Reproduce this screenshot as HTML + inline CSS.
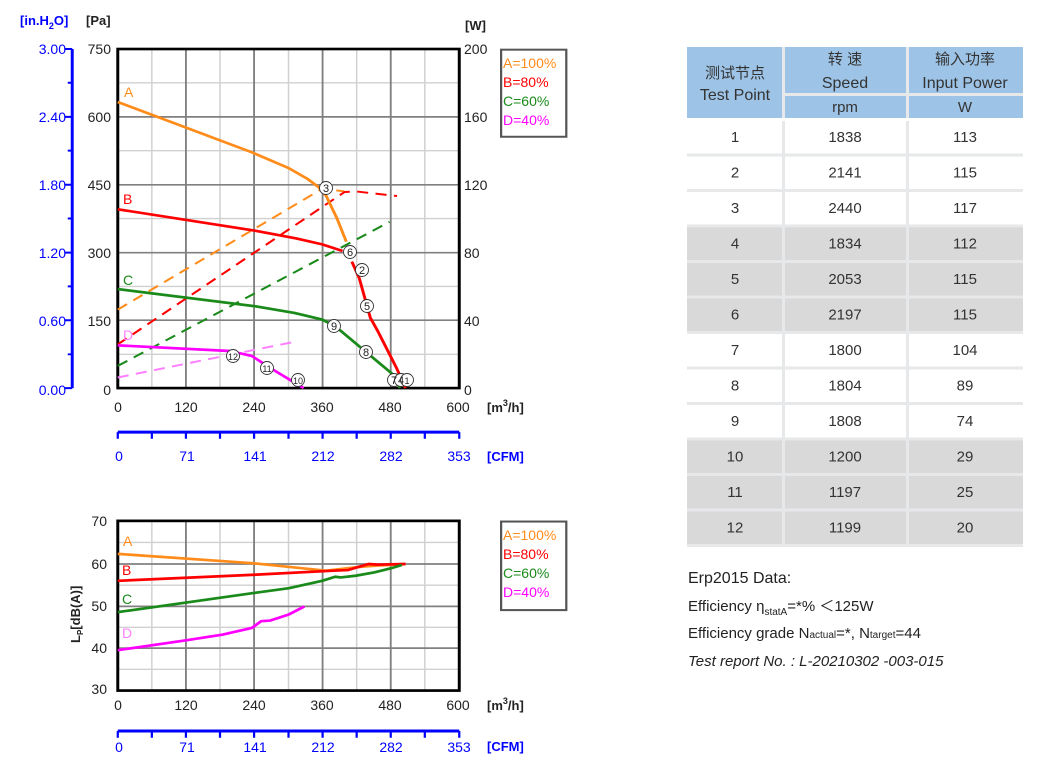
<!DOCTYPE html>
<html><head><meta charset="utf-8"><style>
body{margin:0;background:#fff;width:1045px;height:776px;overflow:hidden}
svg{display:block}
text{font-family:"Liberation Sans",Arial,sans-serif}
.t{font-family:"Liberation Sans","Noto Sans CJK SC",sans-serif;fill:#333;font-size:15px;text-anchor:middle}
</style></head><body>
<svg width="1045" height="776" viewBox="0 0 1045 776">
<g transform="scale(0.37037,0.33113)" fill="none">
 <g stroke="#d0d0d0" stroke-width="4">
  <line x1="410" y1="148" x2="410" y2="1172"/><line x1="594" y1="148" x2="594" y2="1172"/><line x1="779" y1="148" x2="779" y2="1172"/><line x1="963" y1="148" x2="963" y2="1172"/><line x1="1147" y1="148" x2="1147" y2="1172"/>
  <line x1="318" y1="250" x2="1240" y2="250"/><line x1="318" y1="455" x2="1240" y2="455"/><line x1="318" y1="660" x2="1240" y2="660"/><line x1="318" y1="865" x2="1240" y2="865"/><line x1="318" y1="1070" x2="1240" y2="1070"/>
 </g>
 <g stroke="#808080" stroke-width="5">
  <line x1="502" y1="148" x2="502" y2="1172"/><line x1="686" y1="148" x2="686" y2="1172"/><line x1="871" y1="148" x2="871" y2="1172"/><line x1="1055" y1="148" x2="1055" y2="1172"/>
  <line x1="318" y1="353" x2="1240" y2="353"/><line x1="318" y1="558" x2="1240" y2="558"/><line x1="318" y1="763" x2="1240" y2="763"/><line x1="318" y1="967" x2="1240" y2="967"/>
 </g>
 <rect x="318" y="148" width="922" height="1024" stroke="#000" stroke-width="8"/>
 <line x1="195" y1="148" x2="195" y2="1172" stroke="#00f" stroke-width="8"/>
 <path stroke="#00f" stroke-width="6" d="M175 148h20M183 250h12M175 353h20M183 455h12M175 558h20M183 660h12M175 763h20M183 865h12M175 967h20M183 1070h12M175 1172h20"/>
 <line x1="318" y1="1305" x2="1240" y2="1305" stroke="#00f" stroke-width="9"/>
 <path stroke="#00f" stroke-width="6" d="M318 1305v20M410 1305v20M502 1305v20M594 1305v20M686 1305v20M779 1305v20M871 1305v20M963 1305v20M1055 1305v20M1147 1305v20M1240 1305v20"/>
 <g stroke-width="6" stroke-dasharray="30,20">
  <path stroke="#ff8c1a" d="M318 935 L870 570 L930 578"/>
  <path stroke="#f00" d="M318 1040 L930 580 L960 578 L1072 592"/>
  <path stroke="#1a8a1a" d="M318 1105 L1052 670"/>
  <path stroke="#ff80ff" d="M318 1140 L805 1030"/>
 </g>
 <g stroke-width="8" stroke-linejoin="round">
  <path stroke="#ff8c1a" d="M318 308 L680 460 L780 508 L830 540 L860 565 L880 590 L910 660 L935 730"/>
  <path stroke="#f00" d="M318 632 L680 695 L800 720 L870 738 L925 758 M950 790 L970 840 L1000 960 L1020 1000 L1070 1110 L1095 1172"/>
  <path stroke="#1a8a1a" d="M318 873 L690 925 L795 945 L870 965 L905 985 L1060 1130 L1080 1172"/>
  <path stroke="#ff00ff" d="M318 1043 L620 1060 L680 1075 L735 1115 L820 1172"/>
 </g>
 <rect x="1353" y="150" width="176" height="263" stroke="#555" stroke-width="6"/>
</g>
<g font-size="11" text-anchor="middle" fill="#222">
 <g fill="#fff" stroke="#333" stroke-width="0.9">
  <circle cx="326" cy="188" r="6.5"/><circle cx="350" cy="252" r="6.5"/><circle cx="362" cy="270" r="6.5"/><circle cx="367" cy="306" r="6.5"/><circle cx="334" cy="326" r="6.5"/><circle cx="366" cy="352" r="6.5"/><circle cx="394" cy="380" r="6.5"/><circle cx="401" cy="380" r="6.5"/><circle cx="407" cy="380" r="6.5"/><circle cx="233" cy="356" r="6.5"/><circle cx="267" cy="368" r="6.5"/><circle cx="298" cy="380" r="6.5"/>
 </g>
 <text x="326" y="192">3</text><text x="350" y="256">6</text><text x="362" y="274">2</text><text x="367" y="310">5</text><text x="334" y="330">9</text><text x="366" y="356">8</text><text x="394" y="384">7</text><text x="401" y="384">4</text><text x="407" y="384" font-size="9">1</text><text x="233" y="360" font-size="9">12</text><text x="267" y="372" font-size="9">11</text><text x="298" y="384" font-size="9">10</text>
</g>
<g font-size="13" font-weight="bold">
 <text x="20" y="25" fill="#00f">[in.H<tspan font-size="9" dy="4">2</tspan><tspan dy="-4">O]</tspan></text>
 <text x="86" y="25" fill="#222">[Pa]</text>
 <text x="465" y="30" fill="#222">[W]</text>
 <text x="487" y="412" fill="#222">[m<tspan font-size="9" dy="-6">3</tspan><tspan dy="6">/h]</tspan></text>
 <text x="487" y="461" fill="#00f">[CFM]</text>
</g>
<g font-size="14" fill="#00f" text-anchor="end">
 <text x="66" y="54">3.00</text><text x="66" y="122">2.40</text><text x="66" y="190">1.80</text><text x="66" y="258">1.20</text><text x="66" y="326">0.60</text><text x="66" y="395">0.00</text>
</g>
<g font-size="14" fill="#222" text-anchor="end">
 <text x="111" y="54">750</text><text x="111" y="122">600</text><text x="111" y="190">450</text><text x="111" y="258">300</text><text x="111" y="326">150</text><text x="111" y="395">0</text>
</g>
<g font-size="14" fill="#222">
 <text x="464" y="54">200</text><text x="464" y="122">160</text><text x="464" y="190">120</text><text x="464" y="258">80</text><text x="464" y="326">40</text><text x="464" y="395">0</text>
</g>
<g font-size="14" fill="#222" text-anchor="middle">
 <text x="118" y="412">0</text><text x="186" y="412">120</text><text x="254" y="412">240</text><text x="322" y="412">360</text><text x="390" y="412">480</text><text x="458" y="412">600</text>
</g>
<g font-size="14" fill="#00f" text-anchor="middle">
 <text x="119" y="461">0</text><text x="187" y="461">71</text><text x="255" y="461">141</text><text x="323" y="461">212</text><text x="391" y="461">282</text><text x="459" y="461">353</text>
</g>
<g font-size="14">
 <text x="503" y="68" fill="#ff8c1a">A=100%</text><text x="503" y="87" fill="#f00">B=80%</text><text x="503" y="106" fill="#1a8a1a">C=60%</text><text x="503" y="125" fill="#ff00ff">D=40%</text>
 <text x="124" y="97" fill="#ff8c1a">A</text><text x="123" y="204" fill="#f00">B</text><text x="123" y="285" fill="#1a8a1a">C</text><text x="123" y="340" fill="#ff80ff">D</text>
</g>

<g transform="translate(0,500) scale(0.37037,0.3367)" fill="none">
 <g stroke="#d0d0d0" stroke-width="4">
  <line x1="410" y1="62" x2="410" y2="566"/><line x1="594" y1="62" x2="594" y2="566"/><line x1="779" y1="62" x2="779" y2="566"/><line x1="963" y1="62" x2="963" y2="566"/><line x1="1147" y1="62" x2="1147" y2="566"/>
  <line x1="318" y1="126" x2="1240" y2="126"/><line x1="318" y1="253" x2="1240" y2="253"/><line x1="318" y1="378" x2="1240" y2="378"/><line x1="318" y1="503" x2="1240" y2="503"/>
 </g>
 <g stroke="#808080" stroke-width="5">
  <line x1="502" y1="62" x2="502" y2="566"/><line x1="686" y1="62" x2="686" y2="566"/><line x1="871" y1="62" x2="871" y2="566"/><line x1="1055" y1="62" x2="1055" y2="566"/>
  <line x1="318" y1="190" x2="1240" y2="190"/><line x1="318" y1="316" x2="1240" y2="316"/><line x1="318" y1="440" x2="1240" y2="440"/>
 </g>
 <rect x="318" y="62" width="922" height="504" stroke="#000" stroke-width="8"/>
 <line x1="318" y1="686" x2="1240" y2="686" stroke="#00f" stroke-width="9"/>
 <path stroke="#00f" stroke-width="6" d="M318 686v20M410 686v20M502 686v20M594 686v20M686 686v20M779 686v20M871 686v20M963 686v20M1055 686v20M1147 686v20M1240 686v20"/>
 <g stroke-width="8" stroke-linejoin="round">
  <path stroke="#ff8c1a" d="M318 160 L686 188 L880 210 L960 200 L1000 196 L1095 190"/>
  <path stroke="#f00" d="M318 240 L686 222 L900 210 L940 208 L970 198 L995 190 L1020 192 L1095 190"/>
  <path stroke="#1a8a1a" d="M318 333 L500 305 L686 276 L780 262 L870 240 L905 228 L920 230 L960 225 L1010 215 L1055 203 L1085 193"/>
  <path stroke="#ff00ff" d="M318 446 L500 417 L600 400 L680 380 L705 360 L730 358 L780 340 L822 316"/>
 </g>
 <rect x="1353" y="64" width="176" height="263" stroke="#555" stroke-width="6"/>
</g>
<g font-size="14" fill="#222" text-anchor="end">
 <text x="107" y="526">70</text><text x="107" y="569">60</text><text x="107" y="611">50</text><text x="107" y="653">40</text><text x="107" y="694">30</text>
</g>
<g font-size="14" fill="#222" text-anchor="middle">
 <text x="118" y="710">0</text><text x="186" y="710">120</text><text x="254" y="710">240</text><text x="322" y="710">360</text><text x="390" y="710">480</text><text x="458" y="710">600</text>
</g>
<g font-size="14" fill="#00f" text-anchor="middle">
 <text x="119" y="752">0</text><text x="187" y="752">71</text><text x="255" y="752">141</text><text x="323" y="752">212</text><text x="391" y="752">282</text><text x="459" y="752">353</text>
</g>
<g font-size="13" font-weight="bold">
 <text x="487" y="710" fill="#222">[m<tspan font-size="9" dy="-6">3</tspan><tspan dy="6">/h]</tspan></text>
 <text x="487" y="751" fill="#00f">[CFM]</text>
 <text transform="translate(80,643) rotate(-90)" fill="#222">L<tspan font-size="8" dy="3">P</tspan><tspan dy="-3">[dB(A)]</tspan></text>
</g>
<g font-size="14">
 <text x="503" y="540" fill="#ff8c1a">A=100%</text><text x="503" y="559" fill="#f00">B=80%</text><text x="503" y="578" fill="#1a8a1a">C=60%</text><text x="503" y="597" fill="#ff00ff">D=40%</text>
 <text x="123" y="546" fill="#ff8c1a">A</text><text x="122" y="575" fill="#f00">B</text><text x="122" y="604" fill="#1a8a1a">C</text><text x="122" y="638" fill="#ff80ff">D</text>
</g>

<!-- TABLE -->
<rect x="687" y="47" width="336" height="500" fill="#e6e8ea"/>
<g fill="#9dc3e6">
 <rect x="687" y="47" width="95" height="71"/>
 <rect x="785" y="47" width="121" height="46"/><rect x="909" y="47" width="114" height="46"/>
 <rect x="785" y="96" width="121" height="22"/><rect x="909" y="96" width="114" height="22"/>
</g>
<rect x="687" y="118" width="336" height="3" fill="#fff"/>
<g fill="#fff">
 <rect x="687" y="121" width="95" height="32.5"/><rect x="785" y="121" width="121" height="32.5"/><rect x="909" y="121" width="114" height="32.5"/>
 <rect x="687" y="156.5" width="95" height="32.5"/><rect x="785" y="156.5" width="121" height="32.5"/><rect x="909" y="156.5" width="114" height="32.5"/>
 <rect x="687" y="192" width="95" height="32.5"/><rect x="785" y="192" width="121" height="32.5"/><rect x="909" y="192" width="114" height="32.5"/>
 <rect x="687" y="334" width="95" height="32.5"/><rect x="785" y="334" width="121" height="32.5"/><rect x="909" y="334" width="114" height="32.5"/>
 <rect x="687" y="369.5" width="95" height="32.5"/><rect x="785" y="369.5" width="121" height="32.5"/><rect x="909" y="369.5" width="114" height="32.5"/>
 <rect x="687" y="405" width="95" height="32.5"/><rect x="785" y="405" width="121" height="32.5"/><rect x="909" y="405" width="114" height="32.5"/>
</g>
<g fill="#d9d9d9">
 <rect x="687" y="227.5" width="95" height="32.5"/><rect x="785" y="227.5" width="121" height="32.5"/><rect x="909" y="227.5" width="114" height="32.5"/>
 <rect x="687" y="263" width="95" height="32.5"/><rect x="785" y="263" width="121" height="32.5"/><rect x="909" y="263" width="114" height="32.5"/>
 <rect x="687" y="298.5" width="95" height="32.5"/><rect x="785" y="298.5" width="121" height="32.5"/><rect x="909" y="298.5" width="114" height="32.5"/>
 <rect x="687" y="440.5" width="95" height="32.5"/><rect x="785" y="440.5" width="121" height="32.5"/><rect x="909" y="440.5" width="114" height="32.5"/>
 <rect x="687" y="476" width="95" height="32.5"/><rect x="785" y="476" width="121" height="32.5"/><rect x="909" y="476" width="114" height="32.5"/>
 <rect x="687" y="511.5" width="95" height="32.5"/><rect x="785" y="511.5" width="121" height="32.5"/><rect x="909" y="511.5" width="114" height="32.5"/>
</g>
<g>
 <text x="735" y="78" class="t">测试节点</text><text x="735" y="100" class="t" style="font-size:16px">Test Point</text>
 <text x="845" y="64" class="t">转 速</text><text x="845" y="88" class="t" style="font-size:16px">Speed</text><text x="845" y="112" class="t">rpm</text>
 <text x="965" y="64" class="t">输入功率</text><text x="965" y="88" class="t" style="font-size:16px">Input Power</text><text x="965" y="112" class="t">W</text>
 <text class="t" x="735" y="142">1</text><text class="t" x="845" y="142">1838</text><text class="t" x="965" y="142">113</text>
 <text class="t" x="735" y="177.5">2</text><text class="t" x="845" y="177.5">2141</text><text class="t" x="965" y="177.5">115</text>
 <text class="t" x="735" y="213">3</text><text class="t" x="845" y="213">2440</text><text class="t" x="965" y="213">117</text>
 <text class="t" x="735" y="248.5">4</text><text class="t" x="845" y="248.5">1834</text><text class="t" x="965" y="248.5">112</text>
 <text class="t" x="735" y="284">5</text><text class="t" x="845" y="284">2053</text><text class="t" x="965" y="284">115</text>
 <text class="t" x="735" y="319.5">6</text><text class="t" x="845" y="319.5">2197</text><text class="t" x="965" y="319.5">115</text>
 <text class="t" x="735" y="355">7</text><text class="t" x="845" y="355">1800</text><text class="t" x="965" y="355">104</text>
 <text class="t" x="735" y="390.5">8</text><text class="t" x="845" y="390.5">1804</text><text class="t" x="965" y="390.5">89</text>
 <text class="t" x="735" y="426">9</text><text class="t" x="845" y="426">1808</text><text class="t" x="965" y="426">74</text>
 <text class="t" x="735" y="461.5">10</text><text class="t" x="845" y="461.5">1200</text><text class="t" x="965" y="461.5">29</text>
 <text class="t" x="735" y="497">11</text><text class="t" x="845" y="497">1197</text><text class="t" x="965" y="497">25</text>
 <text class="t" x="735" y="532.5">12</text><text class="t" x="845" y="532.5">1199</text><text class="t" x="965" y="532.5">20</text>
</g>
<g fill="#222">
 <text x="688" y="583" font-size="16">Erp2015  Data:</text>
 <text x="688" y="611" font-size="15">Efficiency η<tspan font-size="10" dy="4">statA</tspan><tspan dy="-4">=*% ＜125W</tspan></text>
 <text x="688" y="638" font-size="15">Efficiency grade  N<tspan font-size="10">actual</tspan>=*, N<tspan font-size="10">target</tspan>=44</text>
 <text x="688" y="666" font-size="15" font-style="italic">Test report No. : L-20210302 -003-015</text>
</g>
</svg>
</body></html>
